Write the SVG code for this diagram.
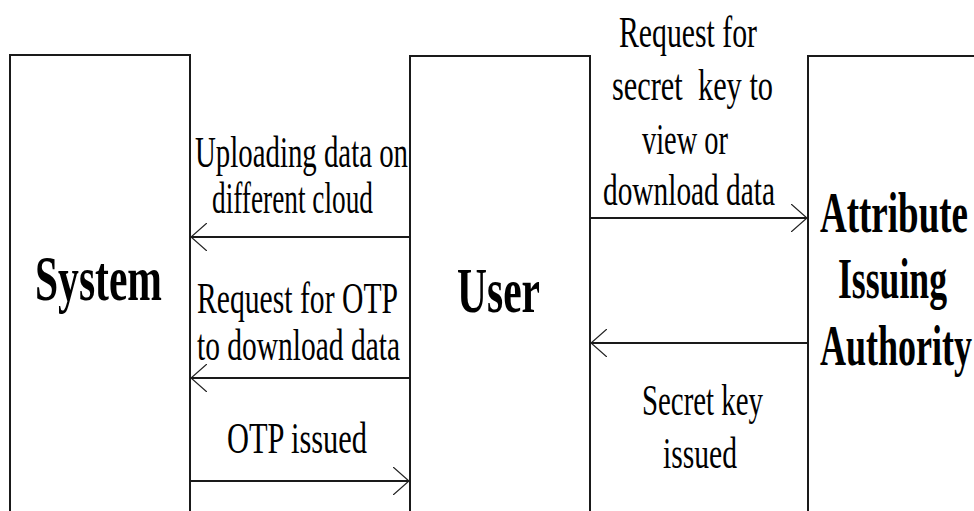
<svg xmlns="http://www.w3.org/2000/svg" width="974" height="511" viewBox="0 0 974 511">
  <style>
    .box { fill: #ffffff; stroke: #1a1a1a; stroke-width: 2; }
    .conn { stroke: #1a1a1a; stroke-width: 2; fill: none; }
    .lbl { font-family: "Liberation Serif", "Times New Roman", serif; font-size: 44px; fill: #000; }
    .node { font-family: "Liberation Serif", "Times New Roman", serif; font-weight: bold; fill: #000; }
  </style>
  <defs>
    <marker id="open" markerUnits="userSpaceOnUse" viewBox="0 0 16 28" refX="16" refY="14" markerWidth="16" markerHeight="28" orient="auto">
      <path d="M0,0 L16,14 L0,28" fill="none" stroke="#222" stroke-width="1.3"/>
    </marker>
  </defs>
  <rect width="974" height="511" fill="#ffffff"/>

  <g id="node-system">
    <rect class="box" x="10" y="55" width="180" height="480"/>
    <text class="node" x="35" y="300" font-size="64" textLength="127" lengthAdjust="spacingAndGlyphs">System</text>
  </g>

  <g id="node-user">
    <rect class="box" x="410" y="56" width="180" height="480"/>
    <text class="node" x="457" y="312" font-size="64" textLength="83" lengthAdjust="spacingAndGlyphs">User</text>
  </g>

  <g id="node-authority">
    <rect class="box" x="808" y="56" width="220" height="480"/>
    <text class="node" font-size="58">
      <tspan x="820" y="232" textLength="148" lengthAdjust="spacingAndGlyphs">Attribute</tspan>
      <tspan x="838" y="298" textLength="109" lengthAdjust="spacingAndGlyphs">Issuing</tspan>
      <tspan x="820" y="365" textLength="152" lengthAdjust="spacingAndGlyphs">Authority</tspan>
    </text>
  </g>

  <g id="connectors">
    <line class="conn" x1="410" y1="237" x2="191" y2="237" marker-end="url(#open)"/>
    <line class="conn" x1="410" y1="378" x2="191" y2="378" marker-end="url(#open)"/>
    <line class="conn" x1="190" y1="481" x2="409" y2="481" marker-end="url(#open)"/>
    <line class="conn" x1="590" y1="218" x2="807" y2="218" marker-end="url(#open)"/>
    <line class="conn" x1="808" y1="343" x2="591" y2="343" marker-end="url(#open)"/>
  </g>

  <g id="labels" class="lbl">
    <text x="195" y="167" textLength="213" lengthAdjust="spacingAndGlyphs">Uploading data on</text>
    <text x="212" y="213" textLength="161" lengthAdjust="spacingAndGlyphs">different cloud</text>
    <text x="197" y="313" textLength="201" lengthAdjust="spacingAndGlyphs">Request for OTP</text>
    <text x="197" y="360" textLength="203" lengthAdjust="spacingAndGlyphs">to download data</text>
    <text x="227" y="453" textLength="140" lengthAdjust="spacingAndGlyphs">OTP issued</text>
    <text x="619" y="47" textLength="138" lengthAdjust="spacingAndGlyphs">Request for</text>
    <text x="612" y="100" textLength="161" lengthAdjust="spacingAndGlyphs" xml:space="preserve">secret  key to</text>
    <text x="642" y="154" textLength="86" lengthAdjust="spacingAndGlyphs">view or</text>
    <text x="603" y="205" textLength="172" lengthAdjust="spacingAndGlyphs">download data</text>
    <text x="642" y="415" textLength="121" lengthAdjust="spacingAndGlyphs">Secret key</text>
    <text x="663" y="468" textLength="74" lengthAdjust="spacingAndGlyphs">issued</text>
  </g>
</svg>
